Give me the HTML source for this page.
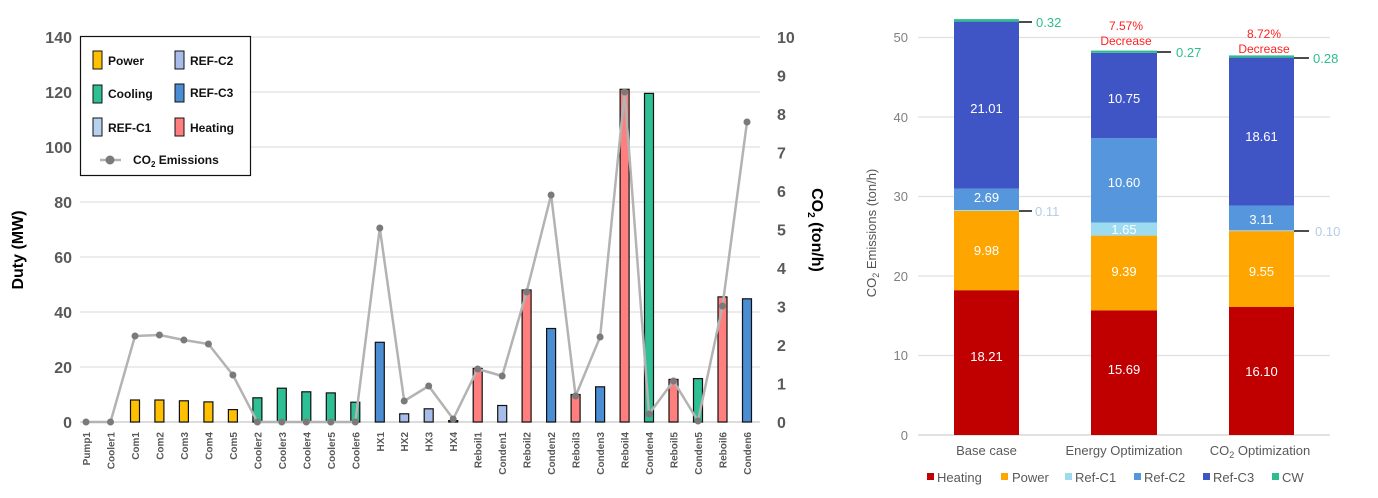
<!DOCTYPE html>
<html><head><meta charset="utf-8"><style>
body{margin:0;background:#fff;}
svg{display:block;font-family:"Liberation Sans",sans-serif;}
</style></head><body>
<svg width="1378" height="498" viewBox="0 0 1378 498" xmlns="http://www.w3.org/2000/svg">
<rect width="1378" height="498" fill="#fff"/>
<!-- LEFT CHART -->
<g stroke="#e6e6e6" stroke-width="1.5">
<line x1="80" y1="367" x2="760" y2="367"/><line x1="80" y1="312" x2="760" y2="312"/>
<line x1="80" y1="257" x2="760" y2="257"/><line x1="80" y1="202" x2="760" y2="202"/>
<line x1="80" y1="147" x2="760" y2="147"/><line x1="80" y1="92" x2="760" y2="92"/>
<line x1="80" y1="37" x2="760" y2="37"/>
</g>
<line x1="80" y1="422" x2="760" y2="422" stroke="#d0d0d0" stroke-width="1.5"/>
<g font-size="16" font-weight="bold" fill="#595959" text-anchor="end">
<text x="72" y="428">0</text><text x="72" y="373">20</text><text x="72" y="318">40</text>
<text x="72" y="263">60</text><text x="72" y="208">80</text><text x="72" y="153">100</text>
<text x="72" y="98">120</text><text x="72" y="43">140</text>
</g>
<g font-size="16" font-weight="bold" fill="#595959">
<text x="777" y="428">0</text><text x="777" y="389.5">1</text><text x="777" y="351">2</text>
<text x="777" y="312.5">3</text><text x="777" y="274">4</text><text x="777" y="235.5">5</text>
<text x="777" y="197">6</text><text x="777" y="158.5">7</text><text x="777" y="120">8</text>
<text x="777" y="81.5">9</text><text x="777" y="43">10</text>
</g>
<text transform="translate(23,250) rotate(-90)" text-anchor="middle" font-size="16" font-weight="bold" fill="#000">Duty (MW)</text>
<text transform="translate(812,230) rotate(90)" text-anchor="middle" font-size="16" font-weight="bold" fill="#000">CO<tspan font-size="10" dy="4">2</tspan><tspan dy="-4"> (ton/h)</tspan></text>
<g stroke="#111" stroke-width="1.2">
<rect x="130.5" y="400" width="9" height="22" fill="#FFC000"/>
<rect x="154.9" y="400" width="9" height="22" fill="#FFC000"/>
<rect x="179.4" y="400.8" width="9" height="21.2" fill="#FFC000"/>
<rect x="203.9" y="401.9" width="9" height="20.1" fill="#FFC000"/>
<rect x="228.4" y="409.6" width="9" height="12.4" fill="#FFC000"/>
<rect x="252.9" y="397.8" width="9" height="24.2" fill="#2FBF94"/>
<rect x="277.3" y="388.2" width="9" height="33.8" fill="#2FBF94"/>
<rect x="301.8" y="391.8" width="9" height="30.2" fill="#2FBF94"/>
<rect x="326.3" y="392.9" width="9" height="29.1" fill="#2FBF94"/>
<rect x="350.8" y="402.2" width="9" height="19.8" fill="#2FBF94"/>
<rect x="375.3" y="342.3" width="9" height="79.7" fill="#4A8DD2"/>
<rect x="399.7" y="413.8" width="9" height="8.2" fill="#A7BCE8"/>
<rect x="424.2" y="408.8" width="9" height="13.2" fill="#A7BCE8"/>
<rect x="448.7" y="420.6" width="9" height="1.4" fill="#A7BCE8"/>
<rect x="473.2" y="368.4" width="9" height="53.6" fill="#FF7F7F"/>
<rect x="497.7" y="405.5" width="9" height="16.5" fill="#A7BCE8"/>
<rect x="522.1" y="290" width="9" height="132" fill="#FF7F7F"/>
<rect x="546.6" y="328.5" width="9" height="93.5" fill="#4A8DD2"/>
<rect x="571.1" y="394.5" width="9" height="27.5" fill="#FF7F7F"/>
<rect x="595.6" y="386.8" width="9" height="35.2" fill="#4A8DD2"/>
<rect x="620.1" y="89.3" width="9" height="332.7" fill="#FF7F7F"/>
<rect x="644.5" y="93.4" width="9" height="328.6" fill="#2FBF94"/>
<rect x="669" y="379.4" width="9" height="42.6" fill="#FF7F7F"/>
<rect x="693.5" y="378.6" width="9" height="43.4" fill="#2FBF94"/>
<rect x="718" y="296.9" width="9" height="125.1" fill="#FF7F7F"/>
<rect x="742.5" y="298.8" width="9" height="123.2" fill="#4A8DD2"/>
</g>
<polyline fill="none" stroke="#b3b3b3" stroke-width="2.5" stroke-linejoin="round" points="86,422 110.5,422 135,336 159.4,335 183.9,340 208.4,344 232.9,375 257.4,422 281.8,422 306.3,422 330.8,422 355.3,422 379.8,228 404.2,401 428.7,386 453.2,419 477.7,369 502.2,376 526.6,292 551.1,195 575.6,396 600.1,337 624.6,92 649,414 673.5,381 698,421 722.5,306 747,122"/>
<g fill="#7a7a7a">
<circle cx="86" cy="422" r="3.5"/><circle cx="110.5" cy="422" r="3.5"/><circle cx="135" cy="336" r="3.5"/><circle cx="159.4" cy="335" r="3.5"/><circle cx="183.9" cy="340" r="3.5"/><circle cx="208.4" cy="344" r="3.5"/><circle cx="232.9" cy="375" r="3.5"/><circle cx="257.4" cy="422" r="3.5"/><circle cx="281.8" cy="422" r="3.5"/><circle cx="306.3" cy="422" r="3.5"/><circle cx="330.8" cy="422" r="3.5"/><circle cx="355.3" cy="422" r="3.5"/><circle cx="379.8" cy="228" r="3.5"/><circle cx="404.2" cy="401" r="3.5"/><circle cx="428.7" cy="386" r="3.5"/><circle cx="453.2" cy="419" r="3.5"/><circle cx="477.7" cy="369" r="3.5"/><circle cx="502.2" cy="376" r="3.5"/><circle cx="526.6" cy="292" r="3.5"/><circle cx="551.1" cy="195" r="3.5"/><circle cx="575.6" cy="396" r="3.5"/><circle cx="600.1" cy="337" r="3.5"/><circle cx="624.6" cy="92" r="3.5"/><circle cx="649" cy="414" r="3.5"/><circle cx="673.5" cy="381" r="3.5"/><circle cx="698" cy="421" r="3.5"/><circle cx="722.5" cy="306" r="3.5"/><circle cx="747" cy="122" r="3.5"/>
</g>
<g font-size="10" font-weight="bold" fill="#595959" text-anchor="end">
<text transform="translate(90,432) rotate(-90)">Pump1</text>
<text transform="translate(114.5,432) rotate(-90)">Cooler1</text>
<text transform="translate(139,432) rotate(-90)">Com1</text>
<text transform="translate(163.4,432) rotate(-90)">Com2</text>
<text transform="translate(187.9,432) rotate(-90)">Com3</text>
<text transform="translate(212.4,432) rotate(-90)">Com4</text>
<text transform="translate(236.9,432) rotate(-90)">Com5</text>
<text transform="translate(261.4,432) rotate(-90)">Cooler2</text>
<text transform="translate(285.8,432) rotate(-90)">Cooler3</text>
<text transform="translate(310.3,432) rotate(-90)">Cooler4</text>
<text transform="translate(334.8,432) rotate(-90)">Cooler5</text>
<text transform="translate(359.3,432) rotate(-90)">Cooler6</text>
<text transform="translate(383.8,432) rotate(-90)">HX1</text>
<text transform="translate(408.2,432) rotate(-90)">HX2</text>
<text transform="translate(432.7,432) rotate(-90)">HX3</text>
<text transform="translate(457.2,432) rotate(-90)">HX4</text>
<text transform="translate(481.7,432) rotate(-90)">Reboil1</text>
<text transform="translate(506.2,432) rotate(-90)">Conden1</text>
<text transform="translate(530.6,432) rotate(-90)">Reboil2</text>
<text transform="translate(555.1,432) rotate(-90)">Conden2</text>
<text transform="translate(579.6,432) rotate(-90)">Reboil3</text>
<text transform="translate(604.1,432) rotate(-90)">Conden3</text>
<text transform="translate(628.6,432) rotate(-90)">Reboil4</text>
<text transform="translate(653,432) rotate(-90)">Conden4</text>
<text transform="translate(677.5,432) rotate(-90)">Reboil5</text>
<text transform="translate(702,432) rotate(-90)">Conden5</text>
<text transform="translate(726.5,432) rotate(-90)">Reboil6</text>
<text transform="translate(751,432) rotate(-90)">Conden6</text>
</g>
<!-- legend -->
<rect x="80.5" y="36.5" width="170" height="139" fill="#fff" stroke="#111" stroke-width="1.2"/>
<g stroke="#111" stroke-width="1">
<rect x="93" y="51" width="9" height="18" fill="#FFC000"/>
<rect x="93" y="85" width="9" height="18" fill="#2FBF94"/>
<rect x="93" y="118" width="9" height="18" fill="#B6D2F0"/>
<rect x="175" y="51" width="9" height="18" fill="#A7BCE8"/>
<rect x="175" y="84" width="9" height="18" fill="#4A8DD2"/>
<rect x="175" y="118" width="9" height="18" fill="#FF7F7F"/>
</g>
<g font-size="12" font-weight="bold" fill="#111">
<text x="108" y="65">Power</text><text x="108" y="98">Cooling</text><text x="108" y="132">REF-C1</text>
<text x="190" y="65">REF-C2</text><text x="190" y="97">REF-C3</text><text x="190" y="132">Heating</text>
<text x="133" y="164">CO<tspan font-size="8" dy="3">2</tspan><tspan dy="-3"> Emissions</tspan></text>
</g>
<line x1="100" y1="160" x2="121" y2="160" stroke="#b3b3b3" stroke-width="2.5"/>
<circle cx="110" cy="160" r="4.5" fill="#7a7a7a"/>

<!-- RIGHT CHART -->
<g stroke="#e0e0e0" stroke-width="1.2">
<line x1="918" y1="355.5" x2="1330" y2="355.5"/><line x1="918" y1="276" x2="1330" y2="276"/>
<line x1="918" y1="196.5" x2="1330" y2="196.5"/><line x1="918" y1="117" x2="1330" y2="117"/>
<line x1="918" y1="37.5" x2="1330" y2="37.5"/>
</g>
<line x1="918" y1="435" x2="1330" y2="435" stroke="#d0d0d0" stroke-width="1.2"/>
<g font-size="13" fill="#808080" text-anchor="end">
<text x="908" y="440">0</text><text x="908" y="360">10</text><text x="908" y="281">20</text>
<text x="908" y="201">30</text><text x="908" y="122">40</text><text x="908" y="42">50</text>
</g>
<text transform="translate(876,233) rotate(-90)" text-anchor="middle" font-size="13" fill="#555">CO<tspan font-size="9" dy="3">2</tspan><tspan dy="-3"> Emissions (ton/h)</tspan></text>
<!-- base -->
<rect x="954" y="290.2" width="65" height="144.8" fill="#C00000"/>
<rect x="954" y="210.9" width="65" height="79.3" fill="#FFA500"/>
<rect x="954" y="210" width="65" height="0.9" fill="#9DDCF0"/>
<rect x="954" y="188.6" width="65" height="21.4" fill="#5596DC"/>
<rect x="954" y="21.6" width="65" height="167" fill="#3F55C6"/>
<rect x="954" y="19.1" width="65" height="2.5" fill="#2DBE8C"/>
<!-- energy -->
<rect x="1091" y="310.3" width="66" height="124.7" fill="#C00000"/>
<rect x="1091" y="235.6" width="66" height="74.7" fill="#FFA500"/>
<rect x="1091" y="222.5" width="66" height="13.1" fill="#9DDCF0"/>
<rect x="1091" y="138.2" width="66" height="84.3" fill="#5596DC"/>
<rect x="1091" y="52.8" width="66" height="85.4" fill="#3F55C6"/>
<rect x="1091" y="50.6" width="66" height="2.2" fill="#2DBE8C"/>
<!-- co2 -->
<rect x="1229" y="307" width="65" height="128" fill="#C00000"/>
<rect x="1229" y="231.1" width="65" height="75.9" fill="#FFA500"/>
<rect x="1229" y="230.3" width="65" height="0.8" fill="#9DDCF0"/>
<rect x="1229" y="205.6" width="65" height="24.7" fill="#5596DC"/>
<rect x="1229" y="57.6" width="65" height="148" fill="#3F55C6"/>
<rect x="1229" y="55.4" width="65" height="2.2" fill="#2DBE8C"/>
<g font-size="13" fill="#fff" text-anchor="middle">
<text x="986.5" y="361">18.21</text><text x="986.5" y="255">9.98</text><text x="986.5" y="202">2.69</text><text x="986.5" y="113">21.01</text>
<text x="1124" y="374">15.69</text><text x="1124" y="276">9.39</text><text x="1124" y="234">1.65</text><text x="1124" y="187">10.60</text><text x="1124" y="103">10.75</text>
<text x="1261.5" y="376">16.10</text><text x="1261.5" y="276">9.55</text><text x="1261.5" y="224">3.11</text><text x="1261.5" y="141">18.61</text>
</g>
<g stroke="#111" stroke-width="1.5">
<line x1="1019" y1="22" x2="1032" y2="22"/><line x1="1019" y1="211" x2="1032" y2="211"/>
<line x1="1157" y1="52" x2="1171" y2="52"/>
<line x1="1294" y1="58" x2="1309" y2="58"/><line x1="1294" y1="231" x2="1309" y2="231"/>
</g>
<g font-size="13">
<text x="1036" y="27" fill="#2DBE8C">0.32</text>
<text x="1035" y="216" fill="#B4CCE8">0.11</text>
<text x="1176" y="57" fill="#2DBE8C">0.27</text>
<text x="1313" y="63" fill="#2DBE8C">0.28</text>
<text x="1315" y="236" fill="#B4CCE8">0.10</text>
</g>
<g font-size="12" fill="#FF2020" text-anchor="middle">
<text x="1126" y="30">7.57%</text><text x="1126" y="45">Decrease</text>
<text x="1264" y="38">8.72%</text><text x="1264" y="53">Decrease</text>
</g>
<g font-size="13" fill="#595959" text-anchor="middle">
<text x="986.5" y="455">Base case</text>
<text x="1124" y="455">Energy Optimization</text>
<text x="1260" y="455">CO<tspan font-size="9" dy="3">2</tspan><tspan dy="-3"> Optimization</tspan></text>
</g>
<g font-size="13" fill="#595959">
<rect x="927" y="473" width="7" height="7" fill="#C00000"/><text x="937" y="482">Heating</text>
<rect x="1001" y="473" width="7" height="7" fill="#FFA500"/><text x="1012" y="482">Power</text>
<rect x="1065" y="473" width="7" height="7" fill="#9DDCF0"/><text x="1075" y="482">Ref-C1</text>
<rect x="1134" y="473" width="7" height="7" fill="#5596DC"/><text x="1144" y="482">Ref-C2</text>
<rect x="1203" y="473" width="7" height="7" fill="#3F55C6"/><text x="1213" y="482">Ref-C3</text>
<rect x="1272" y="473" width="7" height="7" fill="#2DBE8C"/><text x="1282" y="482">CW</text>
</g>
</svg>
</body></html>
